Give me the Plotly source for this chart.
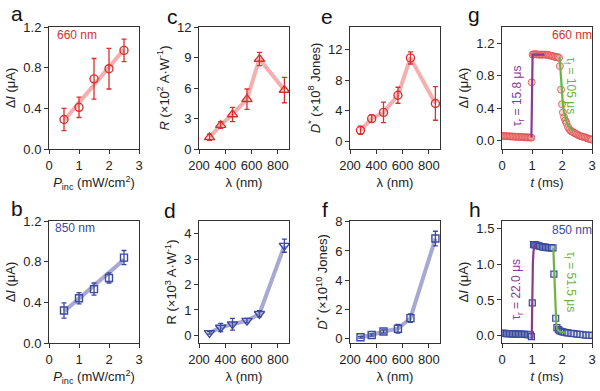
import plotly.graph_objects as go

# ---------------- data ----------------
P_inc = [0.5, 1.0, 1.5, 2.0, 2.5]
a_dI = [0.29, 0.41, 0.69, 0.79, 0.97]
a_err = [0.11, 0.10, 0.20, 0.20, 0.11]
a_fit_x = [0.5, 2.5]
a_fit_y = [0.28, 0.98]

b_dI = [0.32, 0.44, 0.53, 0.64, 0.84]
b_err = [0.075, 0.055, 0.06, 0.05, 0.07]
b_fit_x = [0.5, 2.5]
b_fit_y = [0.31, 0.82]

wl = [280, 365, 455, 565, 660, 850]
c_R = [1.15, 2.35, 3.4, 4.9, 8.85, 5.8]
c_err = [0.3, 0.33, 0.7, 1.0, 0.65, 1.25]
d_R = [0.10, 0.31, 0.44, 0.58, 0.85, 3.53]
d_err = [0.05, 0.16, 0.23, 0.09, 0.12, 0.26]
e_D = [1.45, 2.98, 3.8, 6.05, 10.95, 4.97]
e_err = [0.5, 0.5, 1.35, 1.05, 0.8, 2.2]
f_D = [0.09, 0.25, 0.49, 0.68, 1.40, 6.85]
f_err = [0.06, 0.08, 0.11, 0.3, 0.29, 0.5]

g_t = [0.00, 0.05, 0.10, 0.15, 0.20, 0.25, 0.30, 0.35, 0.40, 0.45, 0.50, 0.55, 0.60, 0.65, 0.70,
       0.75, 0.80, 0.85, 0.90, 0.95, 0.98, 0.99, 1.02, 1.06, 1.10, 1.15, 1.20, 1.25, 1.30, 1.35,
       1.40, 1.45, 1.50, 1.55, 1.60, 1.65, 1.70, 1.75, 1.80, 1.85, 1.90, 1.93, 1.97, 2.00, 2.03,
       2.07, 2.11, 2.15, 2.20, 2.25, 2.30, 2.35, 2.40, 2.45, 2.50, 2.55, 2.60, 2.65, 2.70, 2.75,
       2.80, 2.85, 2.90, 2.95, 3.00]
g_dI = [0.060, 0.060, 0.058, 0.057, 0.057, 0.055, 0.054, 0.054, 0.052, 0.051, 0.050, 0.050, 0.048, 0.047, 0.047,
        0.045, 0.044, 0.043, 0.042, 0.041, 0.040, 0.72, 1.06, 1.065, 1.065, 1.065, 1.06, 1.06, 1.06, 1.06,
        1.06, 1.06, 1.06, 1.055, 1.05, 1.045, 1.04, 1.035, 1.03, 1.03, 1.02, 0.92, 0.63, 0.45, 0.35,
        0.29, 0.25, 0.22, 0.17, 0.14, 0.12, 0.11, 0.10, 0.09, 0.08, 0.07, 0.06, 0.055, 0.05, 0.045,
        0.04, 0.03, 0.025, 0.02, 0.015]
g_rise_t = [0.98, 0.985, 0.99, 0.995, 1.00, 1.02, 1.42]
g_rise_y = [0.04, 0.30, 0.60, 0.85, 1.00, 1.06, 1.06]
g_fall_t = [1.92, 1.94, 1.96, 1.98, 2.00, 2.03, 2.06, 2.10, 2.15, 2.20, 2.26, 2.32, 2.38]
g_fall_y = [1.03, 0.92, 0.78, 0.66, 0.56, 0.45, 0.37, 0.30, 0.24, 0.19, 0.16, 0.14, 0.12]

h_t = [0.00, 0.05, 0.10, 0.15, 0.20, 0.25, 0.30, 0.35, 0.40, 0.45, 0.50, 0.55, 0.60, 0.65, 0.70,
       0.75, 0.80, 0.85, 0.90, 0.95, 0.98, 1.01, 1.05, 1.09, 1.13, 1.17, 1.21, 1.25, 1.30, 1.35,
       1.40, 1.45, 1.50, 1.55, 1.60, 1.65, 1.70, 1.73, 1.79, 1.83, 1.88, 1.93, 1.98, 2.03, 2.08,
       2.15, 2.20, 2.30, 2.40, 2.50, 2.60, 2.70, 2.80, 2.90, 3.00]
h_dI = [0.035, 0.034, 0.033, 0.032, 0.031, 0.030, 0.029, 0.028, 0.027, 0.026, 0.025, 0.024, 0.023, 0.022, 0.021,
        0.020, 0.019, 0.018, 0.016, 0.015, -0.01, 0.46, 1.27, 1.27, 1.265, 1.26, 1.255, 1.25, 1.245, 1.24,
        1.235, 1.235, 1.23, 1.23, 1.23, 1.225, 1.225, 0.86, 0.245, 0.115, 0.085, 0.07, 0.06, 0.055, 0.05,
        0.045, 0.04, 0.035, 0.03, 0.025, 0.02, 0.015, 0.01, 0.008, 0.005]
h_rise_t = [0.99, 0.995, 1.00, 1.01, 1.02, 1.03, 1.05, 1.07, 1.10]
h_rise_y = [-0.05, 0.15, 0.35, 0.62, 0.85, 1.02, 1.18, 1.25, 1.27]
h_fall_t = [1.71, 1.73, 1.75, 1.77, 1.79, 1.81, 1.84, 1.88, 1.94, 2.02, 2.12]
h_fall_y = [1.22, 1.00, 0.72, 0.45, 0.26, 0.16, 0.10, 0.07, 0.055, 0.05, 0.045]

# ---------------- style ----------------
FONT = "Liberation Sans, Arial, sans-serif"
RED = "#d9302f"
RED_L = "rgba(235,110,110,0.55)"
BLUE = "#3a4a9e"
BLUE_L = "rgba(110,110,185,0.6)"
PURPLE = "#8a3a93"
GREEN = "#6cb245"
AX = "#333333"

W, H = 600, 391
cols = [(49, 139), (199, 289), (350, 440), (502, 592)]
rows = [(27, 149), (221, 343)]

def xd(c):
    return [cols[c][0] / W, cols[c][1] / W]

def yd(r):
    return [1 - rows[r][1] / H, 1 - rows[r][0] / H]

fig = go.Figure()

# panel index: 1=a,2=c,3=e,4=g,5=b,6=d,7=f,8=h
panels = {1: (0, 0), 2: (0, 1), 3: (0, 2), 4: (0, 3), 5: (1, 0), 6: (1, 1), 7: (1, 2), 8: (1, 3)}

def ax(i):
    return ("x" if i == 1 else f"x{i}"), ("y" if i == 1 else f"y{i}")

def line_tr(i, x, y, color, width=4):
    xa, ya = ax(i)
    fig.add_trace(go.Scatter(x=x, y=y, mode="lines", line=dict(color=color, width=width),
                             xaxis=xa, yaxis=ya, showlegend=False, hoverinfo="skip"))

def pts(i, x, y, err, color, symbol, size=8):
    xa, ya = ax(i)
    fig.add_trace(go.Scatter(x=x, y=y, mode="markers",
                             marker=dict(symbol=symbol, size=size, color=color,
                                         line=dict(color=color, width=1.4)),
                             error_y=dict(type="data", array=err, color=color, thickness=1.3, width=2.5),
                             xaxis=xa, yaxis=ya, showlegend=False))

# a
line_tr(1, a_fit_x, a_fit_y, RED_L)
pts(1, P_inc, a_dI, a_err, RED, "circle-open")
# b
line_tr(5, b_fit_x, b_fit_y, BLUE_L)
pts(5, P_inc, b_dI, b_err, BLUE, "square-open", 7)
# c
line_tr(2, wl, c_R, RED_L)
pts(2, wl, c_R, c_err, RED, "triangle-up-open", 9)
# d
line_tr(6, wl, d_R, BLUE_L)
pts(6, wl, d_R, d_err, BLUE, "triangle-down-open", 9)
# e
line_tr(3, wl, e_D, RED_L)
pts(3, wl, e_D, e_err, RED, "circle-open")
# f
line_tr(7, wl, f_D, BLUE_L)
pts(7, wl, f_D, f_err, BLUE, "square-open", 7)

# g
fig.add_trace(go.Scatter(x=g_t, y=g_dI, mode="markers",
                         marker=dict(symbol="circle", size=7, color="rgba(245,160,160,0.35)",
                                     line=dict(color="rgba(225,80,80,0.85)", width=1)),
                         xaxis="x4", yaxis="y4", showlegend=False))
line_tr(4, g_rise_t, g_rise_y, PURPLE, 2.2)
line_tr(4, g_fall_t, g_fall_y, GREEN, 2.2)
# h
fig.add_trace(go.Scatter(x=h_t, y=h_dI, mode="markers",
                         marker=dict(symbol="square", size=6, color="rgba(200,205,240,0.5)",
                                     line=dict(color=BLUE, width=1.2)),
                         xaxis="x8", yaxis="y8", showlegend=False))
line_tr(8, h_rise_t, h_rise_y, PURPLE, 2.2)
line_tr(8, h_fall_t, h_fall_y, GREEN, 2.2)

# ---------------- axes ----------------
tickfont = dict(family=FONT, size=13, color="#222")
titlefont = dict(family=FONT, size=13, color="#222")

def common(extra):
    d = dict(showline=True, linecolor=AX, linewidth=1, mirror=True, ticks="outside",
             ticklen=4, tickcolor=AX, tickwidth=1, showgrid=False, zeroline=False,
             tickfont=tickfont, automargin=False)
    d.update(extra)
    return d

P_title = "<i>P</i><sub>inc</sub> (mW/cm<sup>2</sup>)"
L_title = "λ (nm)"
T_title = "<i>t</i> (ms)"
wl_ticks = [200, 400, 600, 800]

xcfg = {
    1: dict(range=[0, 3], tickvals=[0, 1, 2, 3], title=P_title),
    5: dict(range=[0, 3], tickvals=[0, 1, 2, 3], title=P_title),
    2: dict(range=[200, 885], tickvals=wl_ticks, title=L_title),
    6: dict(range=[200, 885], tickvals=wl_ticks, title=L_title),
    3: dict(range=[200, 885], tickvals=wl_ticks, title=L_title),
    7: dict(range=[200, 885], tickvals=wl_ticks, title=L_title),
    4: dict(range=[0, 3], tickvals=[0, 1, 2, 3], title=T_title),
    8: dict(range=[0, 3], tickvals=[0, 1, 2, 3], title=T_title),
}
ycfg = {
    1: dict(range=[0, 1.2], tickvals=[0, 0.4, 0.8, 1.2], tickformat=".1f", title="Δ<i>I</i> (μA)"),
    5: dict(range=[0, 1.2], tickvals=[0, 0.4, 0.8, 1.2], tickformat=".1f", title="Δ<i>I</i> (μA)"),
    2: dict(range=[0, 12], tickvals=[0, 3, 6, 9, 12], title="<i>R</i> (×10<sup>2</sup> A·W<sup>-1</sup>)"),
    6: dict(range=[-0.3, 4.5], tickvals=[0, 1, 2, 3, 4], title="R (×10<sup>3</sup> A·W<sup>-1</sup>)"),
    3: dict(range=[-1, 15], tickvals=[0, 4, 8, 12], title="<i>D</i><sup>*</sup> (×10<sup>8</sup> Jones)"),
    7: dict(range=[-0.3, 8.05], tickvals=[0, 2, 4, 6, 8], title="<i>D</i><sup>*</sup> (×10<sup>10</sup> Jones)"),
    4: dict(range=[-0.1, 1.4], tickvals=[0, 0.4, 0.8, 1.2], tickformat=".1f", title="Δ<i>I</i> (μA)"),
    8: dict(range=[-0.1, 1.6], tickvals=[0, 0.5, 1.0, 1.5], tickformat=".1f", title="Δ<i>I</i> (μA)"),
}

layout = dict(width=W, height=H, margin=dict(l=0, r=0, t=0, b=0),
              paper_bgcolor="white", plot_bgcolor="white", showlegend=False,
              font=dict(family=FONT, size=13, color="#222"))

for i, (r, c) in panels.items():
    xa, ya = ax(i)
    xkey = "xaxis" if i == 1 else f"xaxis{i}"
    ykey = "yaxis" if i == 1 else f"yaxis{i}"
    xc = dict(xcfg[i])
    xt = xc.pop("title")
    yc = dict(ycfg[i])
    yt = yc.pop("title")
    layout[xkey] = common(dict(domain=xd(c), anchor=ya, title=dict(text=xt, font=titlefont, standoff=6), **xc))
    layout[ykey] = common(dict(domain=yd(r), anchor=xa, title=dict(text=yt, font=titlefont, standoff=4), **yc))

fig.update_layout(**layout)

# ---------------- annotations ----------------
letters = [("a", 17, 14), ("c", 172, 16), ("e", 327, 17), ("g", 474, 15),
           ("b", 17, 208), ("d", 170, 210), ("f", 325, 209), ("h", 475, 209)]
for t, px, py in letters:
    fig.add_annotation(text=t, x=px / W, y=1 - py / H, xref="paper", yref="paper",
                       showarrow=False, font=dict(family=FONT, size=21, color="#111"),
                       xanchor="center", yanchor="middle")

lab = dict(family=FONT, size=12)
fig.add_annotation(text="660 nm", x=0.2, y=1.12, xref="x", yref="y", showarrow=False,
                   xanchor="left", yanchor="middle", font=dict(color=RED, **lab))
fig.add_annotation(text="850 nm", x=0.13, y=1.13, xref="x5", yref="y5", showarrow=False,
                   xanchor="left", yanchor="middle", font=dict(color=BLUE, **lab))
fig.add_annotation(text="660 nm", x=3.0, y=1.30, xref="x4", yref="y4", showarrow=False,
                   xanchor="right", yanchor="middle", xshift=2, font=dict(color=RED, **lab))
fig.add_annotation(text="850 nm", x=3.0, y=1.47, xref="x8", yref="y8", showarrow=False,
                   xanchor="right", yanchor="middle", xshift=2, font=dict(color=BLUE, **lab))

fig.add_annotation(text="τ<sub>r</sub> = 15.8 μs", x=0.54, y=0.55, xref="x4", yref="y4",
                   showarrow=False, textangle=-90, font=dict(color=PURPLE, **lab))
fig.add_annotation(text="τ<sub>f</sub> = 105 μs", x=2.28, y=0.68, xref="x4", yref="y4",
                   showarrow=False, textangle=90, font=dict(color=GREEN, **lab))
fig.add_annotation(text="τ<sub>r</sub> = 22.0 μs", x=0.52, y=0.65, xref="x8", yref="y8",
                   showarrow=False, textangle=-90, font=dict(color=PURPLE, **lab))
fig.add_annotation(text="τ<sub>f</sub> = 51.5 μs", x=2.25, y=0.76, xref="x8", yref="y8",
                   showarrow=False, textangle=90, font=dict(color=GREEN, **lab))

fig.write_html("out.html", config={"displayModeBar": False},
               post_script="document.body.style.margin='0';document.body.style.padding='0';")
